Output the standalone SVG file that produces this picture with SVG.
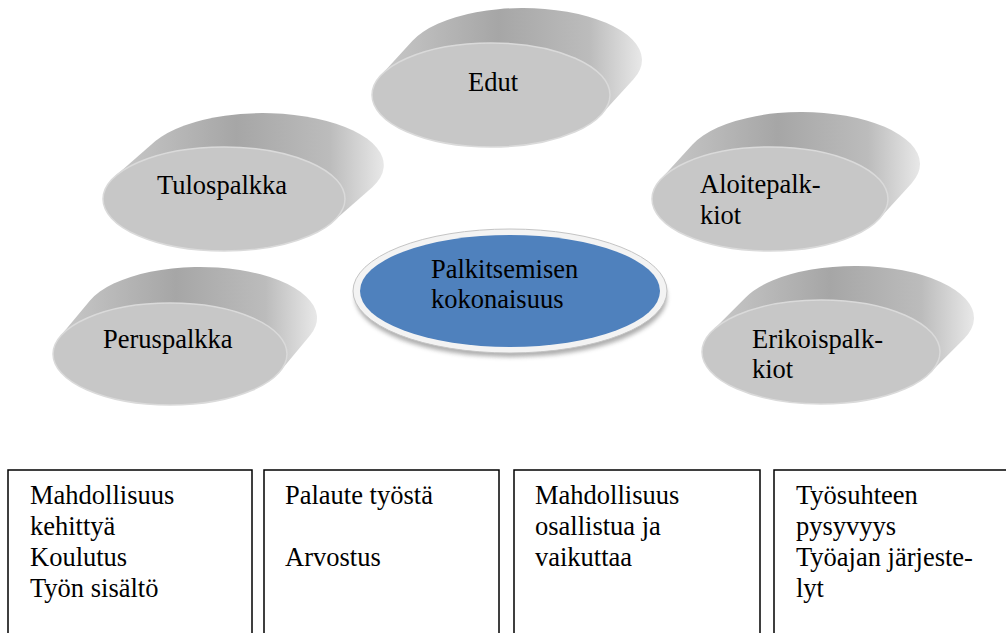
<svg xmlns="http://www.w3.org/2000/svg" width="1006" height="633" viewBox="0 0 1006 633" font-family="'Liberation Serif', 'DejaVu Serif', serif">
<defs>
<linearGradient id="side" x1="0" y1="0" x2="1" y2="0">
<stop offset="0" stop-color="#c8c8c8"/>
<stop offset="0.45" stop-color="#a6a6a6"/>
<stop offset="0.8" stop-color="#bcbcbc"/>
<stop offset="1" stop-color="#e8e8e8"/>
</linearGradient>
<filter id="blur" x="-10%" y="-20%" width="120%" height="140%"><feGaussianBlur stdDeviation="2"/></filter>
</defs>
<style>
.side{fill:url(#side);}
.front{fill:#c7c7c7;stroke:#dadada;stroke-width:1.5;}
text{font-family:'Liberation Serif', serif;font-size:26.5px;fill:#000;}
.box{fill:#fff;stroke:#000;stroke-width:1.5;}
</style>
<rect width="1006" height="633" fill="#fff"/>

<g id="edut">
<path class="side" d="M601.5 114.3 L633.5 79.3 A119 52 0 0 0 412.5 40.7 L380.5 75.7 Z"/>
<ellipse class="front" cx="491" cy="95" rx="119" ry="52"/>
<text x="468" y="91">Edut</text>
</g>

<g id="tulospalkka">
<path class="side" d="M332.6 221.9 L372.6 186.9 A121 52 0 0 0 155.4 141.1 L115.4 176.1 Z"/>
<ellipse class="front" cx="224" cy="199" rx="121" ry="52"/>
<text x="157" y="194">Tulospalkka</text>
</g>

<g id="aloitepalkkiot">
<path class="side" d="M879.5 218.4 L911.5 183.4 A118 52 0 0 0 692.5 144.6 L660.5 179.6 Z"/>
<ellipse class="front" cx="770" cy="199" rx="118" ry="52"/>
<text x="700" y="193">Aloitepalk-</text>
<text x="700" y="224">kiot</text>
</g>

<g id="peruspalkka">
<path class="side" d="M280 371.4 L310 335.4 A117 51 0 0 0 90 300.6 L60 336.6 Z"/>
<ellipse class="front" cx="170" cy="354" rx="117" ry="51"/>
<text x="103" y="348">Peruspalkka</text>
</g>

<g id="erikoispalkkiot">
<path class="side" d="M930.1 372.8 L964.1 338.8 A119 52 0 0 0 745.9 297.2 L711.9 331.2 Z"/>
<ellipse class="front" cx="821" cy="352" rx="119" ry="52"/>
<text x="752" y="348">Erikoispalk-</text>
<text x="752" y="378">kiot</text>
</g>

<g id="center">
<ellipse cx="511" cy="297" rx="156" ry="60" fill="#8c8c8c" opacity="0.7" filter="url(#blur)"/>
<ellipse cx="510" cy="291" rx="157" ry="62" fill="#f3f3f3" stroke="#c4c4c4" stroke-width="1"/>
<ellipse cx="510" cy="291" rx="150" ry="56" fill="#4f81bd"/>
<text x="431" y="278">Palkitsemisen</text>
<text x="431" y="308">kokonaisuus</text>
</g>

<g id="connectors"></g>

<g id="box1">
<rect class="box" x="8" y="470" width="244" height="180"/>
<text x="30" y="504">Mahdollisuus</text>
<text x="30" y="535">kehittyä</text>
<text x="30" y="566">Koulutus</text>
<text x="30" y="597">Työn sisältö</text>
</g>
<g id="box2">
<rect class="box" x="264" y="470" width="235" height="180"/>
<text x="285" y="504">Palaute työstä</text>
<text x="285" y="566">Arvostus</text>
</g>
<g id="box3">
<rect class="box" x="514" y="470" width="246" height="180"/>
<text x="535" y="504">Mahdollisuus</text>
<text x="535" y="535">osallistua ja</text>
<text x="535" y="566">vaikuttaa</text>
</g>
<g id="box4">
<rect class="box" x="774" y="470" width="250" height="180"/>
<text x="796" y="504">Työsuhteen</text>
<text x="796" y="535">pysyvyys</text>
<text x="796" y="566">Työajan järjeste-</text>
<text x="796" y="597">lyt</text>
</g>
</svg>
